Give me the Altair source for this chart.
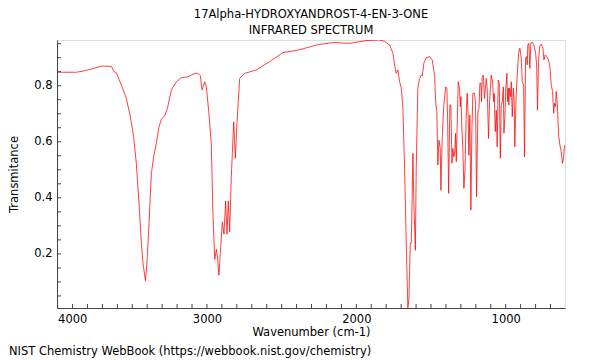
import altair as alt
import pandas as pd

wavenumber = [
    4004, 3874, 3830, 3774, 3707, 3640, 3622, 3606, 3573, 3540, 3513, 3491, 3473, 3455,
    3439, 3428, 3412, 3402, 3390, 3372, 3357, 3339, 3321, 3305, 3283, 3265, 3238, 3205,
    3171, 3127, 3082, 3060, 3044, 3033, 3015, 3004, 2987, 2971, 2960, 2948, 2937, 2930,
    2920, 2908, 2897, 2886, 2875, 2866, 2857, 2848, 2837, 2821, 2810, 2799, 2781, 2748,
    2670, 2580, 2491, 2380, 2268, 2157, 2045, 1934, 1844, 1810, 1777, 1755, 1744, 1733,
    1722, 1710, 1699, 1688, 1677, 1666, 1655, 1648, 1639, 1632, 1621, 1615, 1605, 1599,
    1588, 1577, 1565, 1559, 1548, 1532, 1510, 1492, 1476, 1469, 1461, 1454, 1447, 1438,
    1434, 1425, 1416, 1402, 1394, 1389, 1382, 1374, 1367, 1360, 1354, 1347, 1340, 1336,
    1331, 1324, 1318, 1309, 1304, 1300, 1295, 1287, 1280, 1273, 1264, 1258, 1251, 1247,
    1240, 1233, 1227, 1220, 1209, 1202, 1195, 1186, 1179, 1173, 1166, 1162, 1157, 1150,
    1142, 1130, 1124, 1115, 1108, 1097, 1088, 1081, 1077, 1070, 1063, 1057, 1050, 1043,
    1036, 1030, 1023, 1016, 1012, 1006, 999, 992, 988, 983, 979, 974, 967, 963,
    956, 949, 943, 939, 930, 923, 914, 905, 896, 889, 880, 874, 867, 860,
    856, 852, 845, 838, 832, 822, 811, 800, 793, 787, 780, 773, 762, 751,
    744, 735, 726, 713, 704, 695, 686, 679, 673, 666, 662, 655, 646, 637,
    628, 620, 613, 606,
]
transmittance = [
    0.848, 0.848, 0.852, 0.859, 0.870, 0.869, 0.850, 0.846, 0.802, 0.755, 0.689, 0.618, 0.523, 0.380,
    0.237, 0.166, 0.104, 0.166, 0.285, 0.487, 0.546, 0.594, 0.654, 0.680, 0.692, 0.719, 0.785, 0.814,
    0.829, 0.832, 0.844, 0.844, 0.835, 0.785, 0.814, 0.796, 0.701, 0.594, 0.344, 0.180, 0.216, 0.189,
    0.124, 0.225, 0.314, 0.270, 0.389, 0.270, 0.389, 0.279, 0.475, 0.671, 0.541, 0.666, 0.826, 0.844,
    0.856, 0.886, 0.918, 0.928, 0.945, 0.954, 0.951, 0.961, 0.963, 0.958, 0.945, 0.916, 0.874, 0.844,
    0.856, 0.814, 0.791, 0.719, 0.505, 0.243, 0.008, 0.040, 0.238, 0.238, 0.559, 0.386, 0.213, 0.505,
    0.791, 0.826, 0.838, 0.834, 0.880, 0.900, 0.904, 0.892, 0.838, 0.743, 0.707, 0.517, 0.606, 0.576,
    0.427, 0.612, 0.719, 0.796, 0.790, 0.684, 0.416, 0.731, 0.731, 0.523, 0.576, 0.546, 0.570, 0.630,
    0.529, 0.671, 0.814, 0.790, 0.725, 0.761, 0.671, 0.576, 0.434, 0.493, 0.707, 0.773, 0.684, 0.552,
    0.696, 0.356, 0.624, 0.773, 0.773, 0.743, 0.404, 0.707, 0.719, 0.809, 0.809, 0.743, 0.832, 0.838,
    0.755, 0.826, 0.791, 0.612, 0.743, 0.838, 0.814, 0.743, 0.773, 0.636, 0.713, 0.582, 0.820, 0.809,
    0.541, 0.731, 0.743, 0.796, 0.630, 0.684, 0.791, 0.844, 0.743, 0.791, 0.731, 0.791, 0.761, 0.814,
    0.689, 0.791, 0.743, 0.582, 0.767, 0.838, 0.916, 0.934, 0.898, 0.814, 0.802, 0.546, 0.898, 0.904,
    0.874, 0.945, 0.951, 0.862, 0.951, 0.955, 0.945, 0.916, 0.874, 0.713, 0.886, 0.939, 0.948, 0.934,
    0.892, 0.910, 0.904, 0.892, 0.868, 0.802, 0.779, 0.701, 0.737, 0.725, 0.779, 0.743, 0.624, 0.588,
    0.564, 0.523, 0.541, 0.588,
]

x_labels = [4000, 3000, 2000, 1000]
y_labels = [0.2, 0.4, 0.6, 0.8]
x_minor = list(range(700, 4001, 100))
y_minor = [0.05, 0.10, 0.15, 0.20, 0.25, 0.30, 0.35, 0.40, 0.45, 0.50, 0.55, 0.60,
           0.65, 0.70, 0.75, 0.80, 0.85, 0.90, 0.95]

W, H = 508, 268
FONT = "DejaVu Sans"
FS = 11.5
X_DOMAIN = [4004, 603]
Y_DOMAIN = [0.007, 0.963]

df = pd.DataFrame({"wn": wavenumber, "t": transmittance})
xt = pd.DataFrame({"wn": x_minor})
yt = pd.DataFrame({"t": y_minor})

xscale = alt.Scale(domain=X_DOMAIN, zero=False, nice=False)
yscale = alt.Scale(domain=Y_DOMAIN, zero=False, nice=False)

line = alt.Chart(df).mark_line(color="#ff0000", strokeWidth=1, opacity=0.75, clip=True).encode(
    x=alt.X("wn:Q", scale=xscale,
            axis=alt.Axis(values=x_labels, title="Wavenumber (cm-1)", tickSize=0,
                          labelPadding=5, titlePadding=2, format="d", grid=False,
                          domainColor="#444", labelFontSize=FS, titleFontSize=FS,
                          labelFont=FONT, titleFont=FONT, titleFontWeight="normal",
                          labelColor="black", titleColor="black")),
    y=alt.Y("t:Q", scale=yscale,
            axis=alt.Axis(values=y_labels, title="Transmitance", tickSize=0,
                          labelPadding=5, titlePadding=14, format=".1f", grid=False,
                          domainColor="#444", labelFontSize=FS, titleFontSize=FS,
                          labelFont=FONT, titleFont=FONT, titleFontWeight="normal",
                          labelColor="black", titleColor="black")),
)

xticks = alt.Chart(xt).mark_rule(color="#444", strokeWidth=1).encode(
    x=alt.X("wn:Q", scale=xscale),
    y=alt.value(H),
    y2=alt.value(H - 4),
)
yticks = alt.Chart(yt).mark_rule(color="#444", strokeWidth=1).encode(
    y=alt.Y("t:Q", scale=yscale),
    x=alt.value(0),
    x2=alt.value(4),
)

footer = alt.Chart(pd.DataFrame({"s": ["NIST Chemistry WebBook (https://webbook.nist.gov/chemistry)"]})).mark_text(
    align="left", baseline="middle", font=FONT, fontSize=FS, color="black"
).encode(text="s:N", x=alt.value(-48), y=alt.value(312))

chart = alt.layer(line, xticks, yticks, footer).properties(
    width=W, height=H,
    title=alt.TitleParams(["17Alpha-HYDROXYANDROST-4-EN-3-ONE", "INFRARED SPECTRUM"],
                          font=FONT, fontSize=FS, fontWeight="normal", color="black",
                          anchor="middle", lineHeight=16, offset=4),
    autosize=alt.AutoSizeParams(type="none"),
    padding={"left": 49, "top": 32, "right": 27, "bottom": 60},
).configure_view(stroke="#999", strokeWidth=2).configure(background="white")

chart.save("out.html", embed_options={"renderer": "svg", "actions": False})
